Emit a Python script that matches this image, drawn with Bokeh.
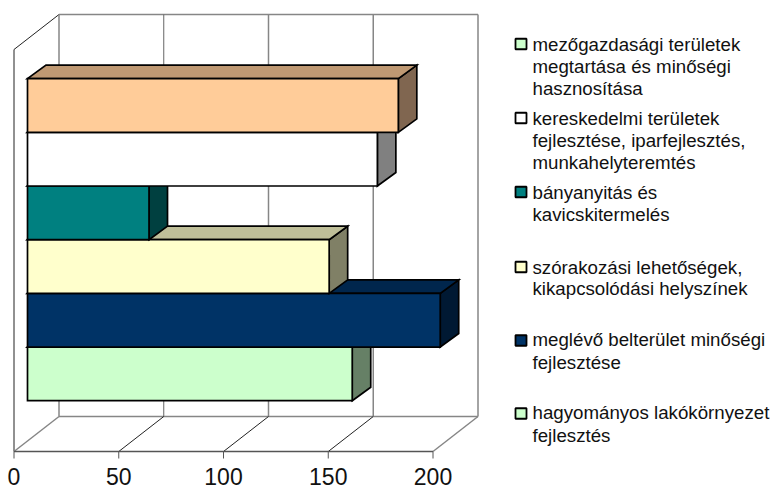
from bokeh.plotting import figure
from bokeh.models import Range1d
from bokeh.embed import file_html
from bokeh.resources import INLINE
from bokeh.core.properties import value

# Data, bottom to top
categories = ["hagyományos lakókörnyezet fejlesztés", "meglévő belterület minőségi fejlesztése",
              "szórakozási lehetőségek, kikapcsolódási helyszínek", "bányanyitás és kavicskitermelés",
              "kereskedelmi területek fejlesztése, iparfejlesztés, munkahelyteremtés",
              "mezőgazdasági területek megtartása és minőségi hasznosítása"]
values = [155, 197, 144, 58, 167, 177]
colors = ["#CCFFCC", "#003366", "#FFFFCC", "#008080", "#FFFFFF", "#FFCC99"]
top_colors = ["#99BF99", "#00264D", "#BFBF99", "#006060", "#BFBFBF", "#BF9973"]
side_colors = ["#668066", "#001933", "#808066", "#004040", "#808080", "#806650"]
ticks = [0, 50, 100, 150, 200]
tick_labels = ["0", "50", "100", "150", "200"]

legend_lines = [["mezőgazdasági területek", "megtartása és minőségi", "hasznosítása"],
                ["kereskedelmi területek", "fejlesztése, iparfejlesztés,", "munkahelyteremtés"],
                ["bányanyitás és", "kavicskitermelés"],
                ["szórakozási lehetőségek,", "kikapcsolódási helyszínek"],
                ["meglévő belterület minőségi", "fejlesztése"],
                ["hagyományos lakókörnyezet", "fejlesztés"]]
legend_colors = ["#CCFFCC", "#FFFFFF", "#008080", "#FFFFCC", "#003366", "#CCFFCC"]

# Layout: screen pixel -> data conversion
PX_X = 2.095      # px per unit of value
PX_Y = 53.67      # px per bar slot
X0 = 13.5         # screen x of value 0 on the front floor edge
Y0 = 400.2        # screen y of slot 0
def dx(px): return px / PX_X
def dy(px): return px / PX_Y
def sx(px): return (px - X0) / PX_X
def sy(py): return (Y0 - py) / PX_Y

W, H = 774, 486
p = figure(width=W, height=H, x_range=Range1d(sx(0), sx(W)), y_range=Range1d(sy(H), sy(0)),
           output_backend="svg", toolbar_location=None, x_axis_location=None,
           y_axis_location=None, min_border=0)
p.outline_line_color = None
p.grid.visible = False
p.background_fill_color = "white"

# Walls
DEPTH_X, DEPTH_Y = dx(45), dy(35)
floor = sy(451)
wall_h = dy(402)
xmax = ticks[-1]
WALL = "#868686"
# Left wall, thin black edges
p.line([0, 0], [floor, floor + wall_h], line_color="#222222", line_width=1)
p.line([0, DEPTH_X], [floor + wall_h, floor + wall_h + DEPTH_Y], line_color="#222222", line_width=1)
# Back wall
p.line([DEPTH_X, DEPTH_X + xmax], [floor + DEPTH_Y + wall_h] * 2, line_color=WALL, line_width=1.5)
p.line([DEPTH_X, DEPTH_X + xmax], [floor + DEPTH_Y] * 2, line_color=WALL, line_width=1.5)
for t in ticks:
    edge = t in (ticks[0], ticks[-1])
    p.line([t + DEPTH_X] * 2, [floor + DEPTH_Y, floor + DEPTH_Y + wall_h],
           line_color=WALL if t != 50 else "#666666", line_width=1.5 if t != 50 else 1)
    p.line([t, t + DEPTH_X], [floor, floor + DEPTH_Y],
           line_color=WALL if edge else "#222222", line_width=1.5 if edge else 1)

# Bars, bottom to top so that each covers the previous one's top face
START_D = dx(13.5)
BAR_DX, BAR_DY = dx(18.5), dy(13.5)
for i, (v, c, tc, sc) in enumerate(zip(values, colors, top_colors, side_colors)):
    x1 = START_D + v
    # side face
    p.patch([x1, x1 + BAR_DX, x1 + BAR_DX, x1], [i, i + BAR_DY, i + 1 + BAR_DY, i + 1],
            fill_color=sc, line_color="black", line_width=1.7, line_join="miter")
    # top face
    p.patch([START_D, x1, x1 + BAR_DX, START_D + BAR_DX], [i + 1, i + 1, i + 1 + BAR_DY, i + 1 + BAR_DY],
            fill_color=tc, line_color="black", line_width=1.7, line_join="miter")
    # front face
    p.patch([START_D, x1, x1, START_D], [i, i, i + 1, i + 1],
            fill_color=c, line_color="black", line_width=1.7, line_join="miter")

# Legend
baselines = [[44, 66, 88], [118, 140, 161.5], [192, 213.5], [266.5, 288], [339, 361.5], [412, 435]]
swatch_y = [43.5, 117.5, 191.5, 266.5, 340, 413]
for lines, bases, col, sy_px in zip(legend_lines, baselines, legend_colors, swatch_y):
    p.rect(x=[sx(520.5)], y=[sy(sy_px)], width=dx(11), height=dy(10.5),
           fill_color=col, line_color="black", line_width=1.8)
    p.text(x=[sx(532)] * len(lines), y=[sy(b) for b in bases], text=lines,
           text_font=value("Liberation Sans"), text_font_size="18.7px",
           text_color="#111111", text_baseline="alphabetic", text_align="left")

# Value axis on the front floor edge
p.line([ticks[0], ticks[-1]], [floor, floor], line_color="#555555", line_width=1.5)
p.segment(x0=ticks, y0=[floor] * len(ticks), x1=ticks, y1=[floor - dy(7)] * len(ticks),
          line_color="#555555", line_width=1)
p.text(x=ticks, y=[sy(476)] * len(ticks), text=tick_labels,
       text_font=value("Liberation Sans"), text_font_size="23px", text_color="#111111",
       text_baseline="alphabetic", text_align="center")

open("out.html", "w").write(file_html(p, INLINE))
